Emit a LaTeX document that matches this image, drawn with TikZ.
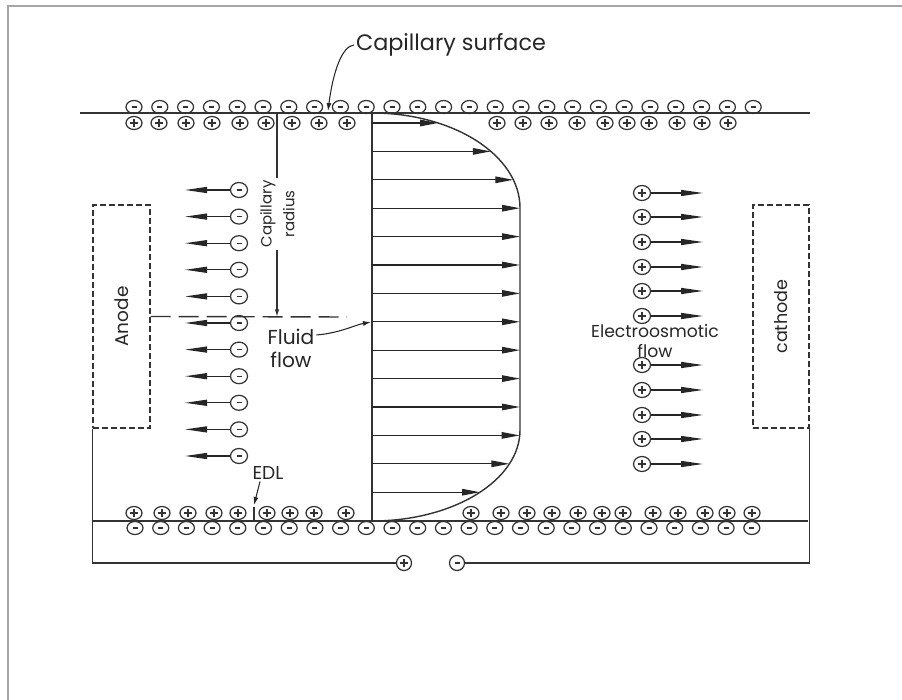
\documentclass[tikz,border=0pt]{standalone}
\usepackage{fontspec}
\setmainfont{Poppins}
\usepackage{graphicx}
\usetikzlibrary{arrows.meta,positioning,shapes.geometric}

\tikzset{
  ion/.style={ellipse,draw=black!80,line width=0.7pt,minimum width=3.2mm,minimum height=2.6mm,inner sep=0pt},
  negion/.style={ion,path picture={\draw[line width=0.6pt] ([xshift=-0.5mm]path picture bounding box.center) -- ([xshift=0.5mm]path picture bounding box.center);}},
  posion/.style={ion,path picture={\draw[line width=0.6pt] ([xshift=-0.85mm]path picture bounding box.center) -- ([xshift=0.85mm]path picture bounding box.center) ([yshift=-0.85mm]path picture bounding box.center) -- ([yshift=0.85mm]path picture bounding box.center);}},
  wall/.style={line width=0.8pt,black!80},
  electrode/.style={draw=black!80,dash pattern=on 1.2mm off 0.6mm,line width=0.6pt,inner sep=0pt},
  velo/.style={line width=0.7pt,black!85,-{Triangle[length=3.6mm,width=1.3mm]}},
  drift/.style={line width=0.7pt,black!85,-{Triangle[length=4.4mm,width=1.2mm]}},
  leader/.style={line width=0.6pt,black!85,-{Latex[length=1.6mm,width=1mm]}},
  lbl/.style={inner sep=1pt,text=black!85},
}

\begin{document}
\begin{tikzpicture}[x=0.2mm,y=0.2mm]
\useasboundingbox (0,0) rectangle (902,-700);
% sheet frame
\draw[gray!70,line width=0.45mm] (8,-700) -- (8,-6) -- (902,-6);
% capillary walls
\draw[wall] (80,-113) -- (810,-113);
\draw[wall] (93,-521) -- (808,-521);
% wall charges and counter-ions of the EDL
\foreach \i in {0,...,24}{
  \node[negion] (tn\i) at ({134+25.8*\i},-107) {};
  \node[negion] (bn\i) at ({135+25.7*\i},-528) {};
}
\foreach \x [count=\i] in {134,159,186,212,240,266,292,319,347,497,523,549,577,605,627,649,677,702,728}
  \node[posion] (tp\i) at (\x,-123) {};
\foreach \x [count=\i] in {134,162,188,214,238,267,290,314,346,471,501,527,552,578,602,623,653,678,705,727,752}
  \node[posion] (bp\i) at (\x,-513) {};
% electrodes
\node[electrode,minimum width=11.4mm,minimum height=44.6mm] (anode) at (121.5,-316.5)
  {\rotatebox{90}{\fontsize{10.5}{12}\selectfont\color{black!85}Anode}};
\node[electrode,minimum width=11.2mm,minimum height=44.6mm] (cathode) at (781,-316.5)
  {\rotatebox{90}{\fontsize{10}{12}\selectfont\color{black!85}cathode}};
% power supply
\node[posion,circle,minimum size=3mm] (supplus) at (404,-563) {};
\node[negion,circle,minimum size=3mm] (supminus) at (457,-563) {};
\draw[wall] (anode.south west) |- (supplus);
\draw[wall] (cathode.south east) |- (supminus);
% centre line and capillary radius
\coordinate (axisend) at (347,-317);
\draw[wall,dash pattern=on 4mm off 1.6mm] (anode.east) -- (axisend);
\coordinate (radtop) at (277,-113);
\node[lbl,font=\fontsize{8.5}{13}\selectfont] (radlbl) at (278.5,-214)
  {\rotatebox{90}{\begin{tabular}{@{}c@{}}Capillary\\radius\end{tabular}}};
\draw[wall] (radtop) -- (radtop |- radlbl.north);
\draw[wall,-{Latex[length=1.5mm,width=0.9mm]}] (radtop |- radlbl.south) -- (radtop |- axisend);
% velocity profile
\draw[wall] (372,-113) -- (372,-521);
\draw[wall] (372,-113) arc[start angle=90,end angle=0,x radius=148,y radius=95]
  -- (520,-430) arc[start angle=0,end angle=-90,x radius=148,y radius=91];
\foreach \k in {0,...,13}{
  \pgfmathsetmacro{\yy}{123+28.4*\k}
  \pgfmathsetmacro{\xx}{\yy<208 ? 372+148*sqrt(max(0,1-((208-\yy)/95)^2)) : (\yy>430 ? 372+148*sqrt(max(0,1-((\yy-430)/91)^2)) : 520)}
  \draw[velo] (372,-\yy) -- (\xx,-\yy);
}
% ions drifting to the electrodes
\foreach \k in {0,...,10}{
  \node[negion,minimum width=3.4mm,minimum height=3mm] (an\k) at (239,{-190-26.6*\k}) {};
  \coordinate (at\k) at (185,{-190-26.6*\k});
  \draw[drift] (an\k) -- (at\k);
}
\foreach \y [count=\k] in {193,217,242,267,291,316,365,390,415,439,464}{
  \node[posion,minimum width=3.4mm,minimum height=3mm] (cp\k) at (642,-\y) {};
  \coordinate (ct\k) at (703,-\y);
  \draw[drift] (cp\k) -- (ct\k);
}
% labels
\node[lbl,font=\fontsize{12.7}{14}\selectfont] (capsurf) at (451,-45) {Capillary surface};
\coordinate (captip) at (328,-111);
\draw[leader] (capsurf.west) .. controls (342,-46) and (333,-72) .. (captip);
\node[lbl,font=\fontsize{11.5}{13}\selectfont,align=center] (fluid) at (291,-348) {Fluid\\flow};
\coordinate (flowtip) at (371,-322);
\draw[leader] ([yshift=2.6mm]fluid.east) .. controls (340,-333) and (355,-325) .. (flowtip);
\node[lbl,font=\fontsize{9.8}{11}\selectfont,align=center] (eof) at (655,-341) {Electroosmotic\\flow};
\node[lbl,font=\fontsize{10.6}{12}\selectfont] (edl) at (268,-473) {EDL};
\coordinate (edltip) at (254,-505);
\draw[leader] ([xshift=-1.6mm]edl.south) -- (edltip);
\draw[wall] (254,-507) -- (254,-521);
\end{tikzpicture}
\end{document}
